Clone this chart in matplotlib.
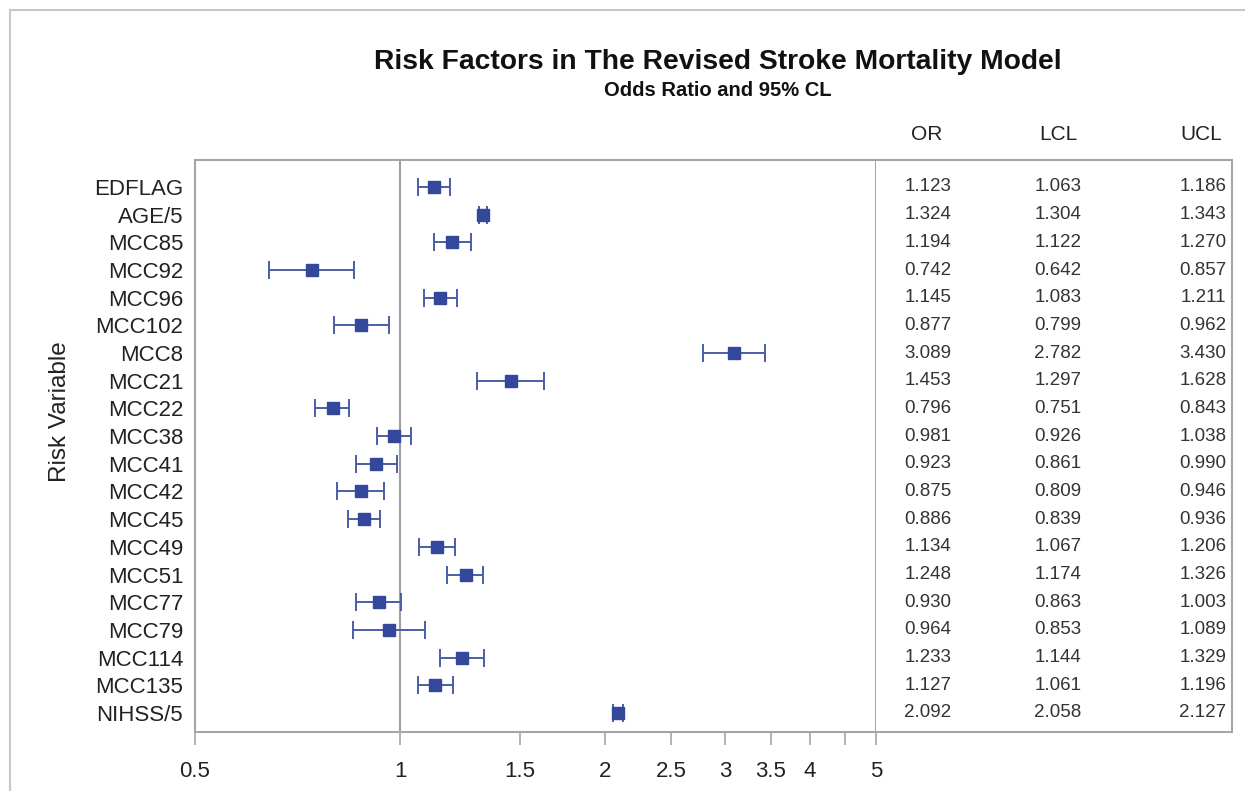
import matplotlib.pyplot as plt
import numpy as np
from matplotlib.lines import Line2D
from matplotlib.ticker import FixedLocator, NullLocator

plt.rcParams['font.family'] = ['Liberation Sans', 'DejaVu Sans']

variables = ['EDFLAG', 'AGE/5', 'MCC85', 'MCC92', 'MCC96', 'MCC102', 'MCC8', 'MCC21', 'MCC22',
             'MCC38', 'MCC41', 'MCC42', 'MCC45', 'MCC49', 'MCC51', 'MCC77', 'MCC79', 'MCC114',
             'MCC135', 'NIHSS/5']
odds = [1.123, 1.324, 1.194, 0.742, 1.145, 0.877, 3.089, 1.453, 0.796, 0.981, 0.923, 0.875,
        0.886, 1.134, 1.248, 0.930, 0.964, 1.233, 1.127, 2.092]
lcl = [1.063, 1.304, 1.122, 0.642, 1.083, 0.799, 2.782, 1.297, 0.751, 0.926, 0.861, 0.809,
       0.839, 1.067, 1.174, 0.863, 0.853, 1.144, 1.061, 2.058]
ucl = [1.186, 1.343, 1.270, 0.857, 1.211, 0.962, 3.430, 1.628, 0.843, 1.038, 0.990, 0.946,
       0.936, 1.206, 1.326, 1.003, 1.089, 1.329, 1.196, 2.127]
xticks = [0.5, 1, 1.5, 2, 2.5, 3, 3.5, 4, 4.5, 5]
xticklabels = ['0.5', '1', '1.5', '2', '2.5', '3', '3.5', '4', '', '5']

W, H = 1245, 791
fig = plt.figure(figsize=(W / 100, H / 100), dpi=100, facecolor='white')

frame_col = '#a6a6a6'
ax = fig.add_axes([195 / W, 1 - 732 / H, (876 - 195) / W, (732 - 160) / H])
tab = fig.add_axes([876 / W, 1 - 732 / H, (1232 - 876) / W, (732 - 160) / H])

ypos = np.arange(len(variables))
odds = np.array(odds)
err = [odds - np.array(lcl), np.array(ucl) - odds]

ax.axvline(1, color='#a0a0a0', linewidth=1.5, zorder=1)
ax.errorbar(odds, ypos, xerr=err, fmt='s', color='#33489a', ecolor='#4a5ea8',
            elinewidth=1.4, capsize=6.5, capthick=1.4, markersize=8.5, zorder=3)

ax.set_xscale('log')
ax.set_xlim(0.5, 5)
ax.xaxis.set_major_locator(FixedLocator(xticks))
ax.xaxis.set_minor_locator(NullLocator())
ax.set_xticklabels(xticklabels)
ax.set_ylim(19.69, -0.975)
ax.set_yticks(ypos)
ax.set_yticklabels(variables)
ax.tick_params(axis='y', length=0, pad=8.5, labelsize=16, labelcolor='#222222')
ax.tick_params(axis='x', length=9, width=1.2, color=frame_col, pad=12, labelsize=16,
               labelcolor='#222222')
for s in ax.spines.values():
    s.set_color(frame_col)
    s.set_linewidth(1.5)
ax.set_ylabel('Risk Variable', fontsize=17.5, color='#222222')
ax.yaxis.set_label_coords((71 - 195) / (876 - 195), (732 - 412) / (732 - 160))

# table of values to the right
tab.set_xlim(876, 1232)
tab.set_ylim(19.69, -0.975)
tab.set_xticks([])
tab.set_yticks([])
tab.spines['left'].set_visible(False)
for s in ['top', 'right', 'bottom']:
    tab.spines[s].set_color(frame_col)
    tab.spines[s].set_linewidth(1.5)
cols = [(928, odds), (1058, lcl), (1203, ucl)]
for xc, vals in cols:
    for yy, v in zip(ypos, vals):
        tab.text(xc, yy, f'{v:.3f}', ha='center', va='center', fontsize=13.5, color='#333333')
for xc, name in zip([927, 1058, 1201], ['OR', 'LCL', 'UCL']):
    fig.text(xc / W, 1 - 134 / H, name, ha='center', va='center', fontsize=15, color='#222222')

fig.text(718 / W, 1 - 62 / H, 'Risk Factors in The Revised Stroke Mortality Model',
         ha='center', va='center', fontsize=20.3, fontweight='bold', color='#111111')
fig.text(718 / W, 1 - 90 / H, 'Odds Ratio and 95% CL', ha='center', va='center',
         fontsize=14.5, fontweight='bold', color='#111111')

# light outer border
fig.add_artist(Line2D([10 / W, 1], [1 - 10 / H, 1 - 10 / H], transform=fig.transFigure,
                      color='#c8c8c8', linewidth=1.5))
fig.add_artist(Line2D([10 / W, 10 / W], [0, 1 - 10 / H], transform=fig.transFigure,
                      color='#c8c8c8', linewidth=1.5))

fig.savefig('out.png', dpi=100, facecolor='white')
